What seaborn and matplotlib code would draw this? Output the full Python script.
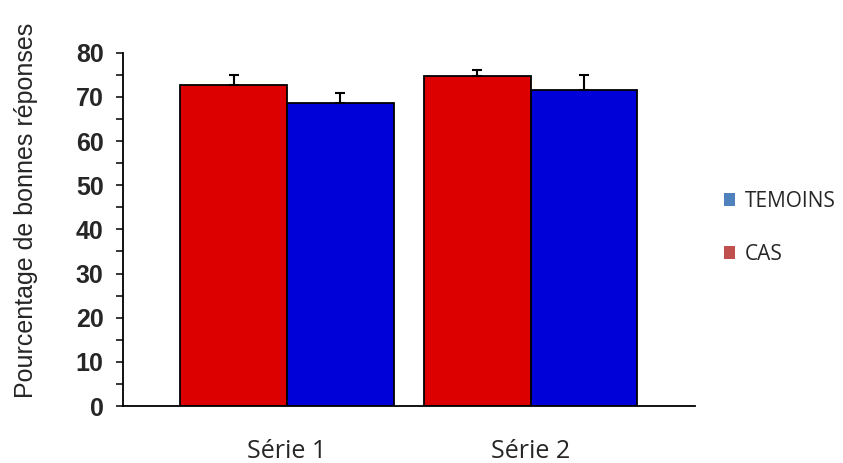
import numpy as np
import pandas as pd
import seaborn as sns
import matplotlib.pyplot as plt
from matplotlib.patches import Patch
from matplotlib.ticker import MultipleLocator

series = ["Série 1", "Série 2"]
groups = ["CAS", "TEMOINS"]
cas = [72.7, 74.8]
temoins = [68.6, 71.5]
cas_err = [2.3, 1.3]
temoins_err = [2.4, 3.4]

df = pd.DataFrame({
    "serie": series * 2,
    "groupe": ["CAS"] * 2 + ["TEMOINS"] * 2,
    "valeur": cas + temoins,
})

sns.set_style("white")
plt.rcParams["font.family"] = ["Liberation Sans", "DejaVu Sans"]

fig = plt.figure(figsize=(8.43, 4.63), dpi=100)
ax = fig.add_axes([0.146, 0.123, 0.678, 0.763])

bar_colors = {"CAS": "#dc0000", "TEMOINS": "#0000d8"}
sns.barplot(data=df, x="serie", y="valeur", hue="groupe", hue_order=groups,
            palette=bar_colors, width=0.875, edgecolor="black", linewidth=1.3,
            legend=False, ax=ax, saturation=1)

errs = {"CAS": cas_err, "TEMOINS": temoins_err}
for cont, g in zip(ax.containers, groups):
    xs = [p.get_x() + p.get_width() / 2 for p in cont]
    ys = [p.get_height() for p in cont]
    ax.errorbar(xs, ys, yerr=[np.zeros(len(ys)), errs[g]], fmt="none",
                ecolor="black", elinewidth=1.5, capsize=3.5, capthick=1.5)

ax.set_xlim(-0.672, 1.672)
ax.set_ylim(0, 80)
ax.yaxis.set_major_locator(MultipleLocator(10))
ax.yaxis.set_minor_locator(MultipleLocator(5))
ax.tick_params(axis="y", which="both", left=True, length=5, width=1.3,
               direction="out", pad=9)
ax.tick_params(axis="x", bottom=False, pad=20)
for lab in ax.get_yticklabels():
    lab.set_fontweight("bold")
    lab.set_fontsize(18)
for lab in ax.get_xticklabels():
    lab.set_fontsize(18)
    lab.set_family(["Open Sans", "DejaVu Sans"])
ax.set_xlabel("")
ax.set_ylabel("Pourcentage de bonnes réponses", fontsize=18)
ax.yaxis.set_label_coords(-0.149, 0.555)

sns.despine(ax=ax)
for s in ["left", "bottom"]:
    ax.spines[s].set_color("black")
    ax.spines[s].set_linewidth(1.3)

handles = [Patch(facecolor="#4f81bd", edgecolor="none"),
           Patch(facecolor="#c0504d", edgecolor="none")]
fig.legend(handles, ["TEMOINS", "CAS"], loc="center left",
           bbox_to_anchor=(0.846, 0.508), frameon=False, borderpad=0,
           handlelength=0.55, handleheight=0.6, handletextpad=0.45,
           labelspacing=1.55, prop={"family": ["Open Sans", "DejaVu Sans"], "size": 15})

fig.savefig("out.png", dpi=100)
